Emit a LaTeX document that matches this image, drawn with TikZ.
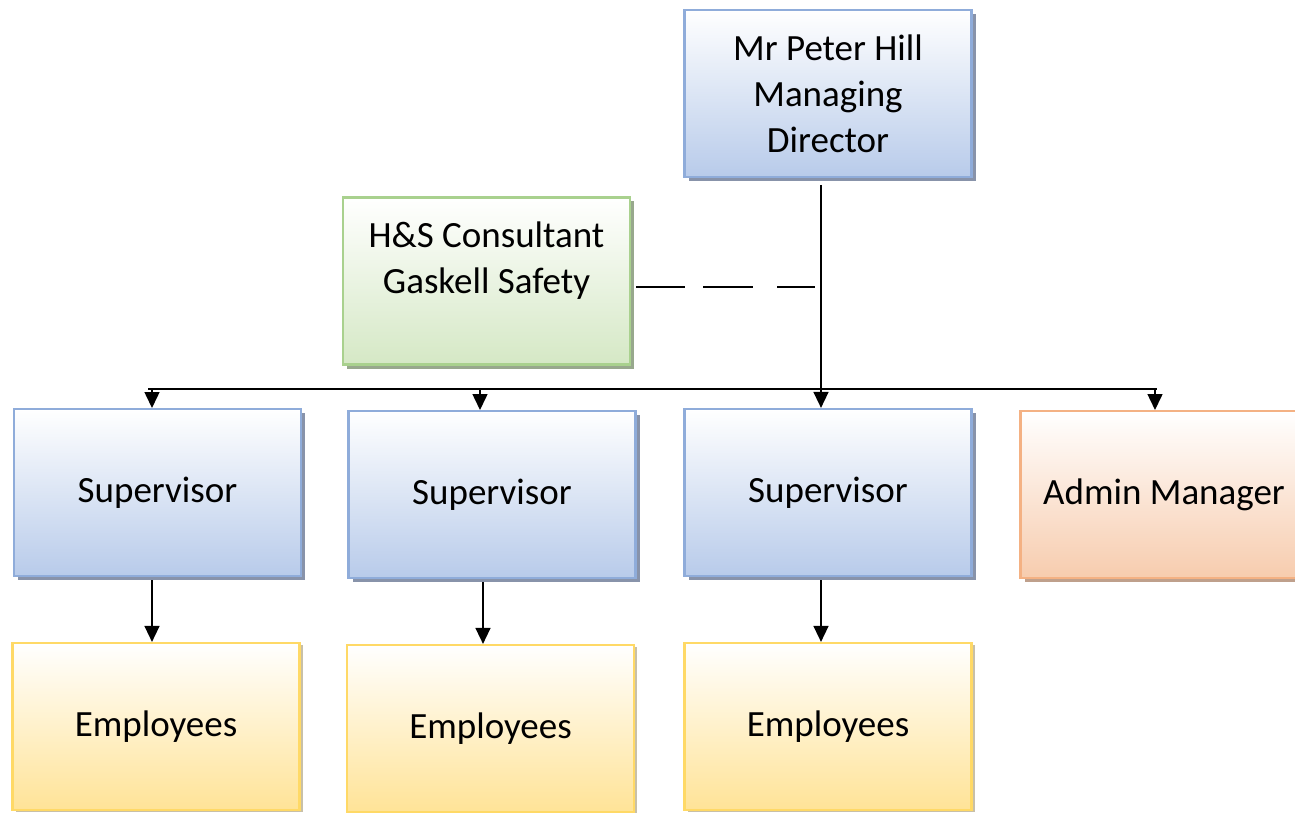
\documentclass[tikz,border=0pt]{standalone}
\usepackage{fontspec}
\setmainfont{Carlito}
\usetikzlibrary{arrows.meta,shadows}
\definecolor{bluedraw}{HTML}{8FACDA}
\definecolor{bluebot}{HTML}{B8CBEA}
\definecolor{blueshad}{HTML}{8893AA}
\definecolor{greendraw}{HTML}{A9D18E}
\definecolor{greenbot}{HTML}{D5E8C5}
\definecolor{greenshad}{HTML}{98A88D}
\definecolor{yeldraw}{HTML}{FFD966}
\definecolor{yelbot}{HTML}{FFE397}
\definecolor{yelshad}{HTML}{C8C0A8}
\definecolor{ordraw}{HTML}{F4B183}
\definecolor{orbot}{HTML}{F7CCAE}
\definecolor{orshad}{HTML}{BFA08C}
\tikzset{
  orgbox/.style={rectangle, minimum width=287pt, minimum height=167pt, inner sep=0pt,
    align=center, line width=2.2pt, font=\fontsize{37}{46}\selectfont, text=black},
  bluebox/.style={orgbox, draw=bluedraw, top color=white, bottom color=bluebot,
    general shadow={fill=blueshad, shadow xshift=4pt, shadow yshift=-4pt}},
  greenbox/.style={orgbox, draw=greendraw, top color=white, bottom color=greenbot,
    general shadow={fill=greenshad, shadow xshift=4pt, shadow yshift=-4pt}},
  yelbox/.style={orgbox, draw=yeldraw, top color=white, bottom color=yelbot,
    general shadow={fill=yelshad, shadow xshift=3pt, shadow yshift=-2pt}},
  orbox/.style={orgbox, draw=ordraw, top color=white, bottom color=orbot,
    general shadow={fill=orshad, shadow xshift=4pt, shadow yshift=-4pt}},
  conn/.style={line width=1.5pt, draw=black},
  arr/.style={conn, -{Triangle[width=15pt,length=16pt]}}
}
\begin{document}
\begin{tikzpicture}[x=1pt,y=-1pt]
\useasboundingbox (0,0) rectangle (1295,813);
\node[bluebox] (md) at (828,93.5) {Mr Peter Hill\\Managing\\Director};
\node[greenbox] (hs) at (486.5,281) {H\&S Consultant\\Gaskell Safety\\[0pt]\vphantom{X}};
\node[bluebox] (s1) at (157.5,492.5) {Supervisor};
\node[bluebox] (s2) at (492,494.5) {Supervisor};
\node[bluebox] (s3) at (828,492.5) {Supervisor};
\node[orbox] (am) at (1164,494.5) {Admin Manager};
\node[yelbox] (e1) at (156,726.5) {Employees};
\node[yelbox] (e2) at (490.5,728.5) {Employees};
\node[yelbox] (e3) at (828,726.5) {Employees};
% bus
\coordinate (bl) at (148,389);
\coordinate (br) at (1157,389);
\coordinate (mdb) at (821,185);
\coordinate (dashend) at (815,287);
\coordinate (dashstart) at (636,287);
\draw[conn] (bl) -- (br);
\draw[arr] (mdb) -- (mdb |- s3.north);
\draw[arr] (152,389) -- (152,408);
\draw[arr] (480,389) -- (480,410);
\draw[arr] (1155,389) -- (1155,410);
\draw[conn, dash pattern=on 49pt off 18pt on 50pt off 24pt on 38pt] (dashstart) -- (dashend);
\draw[arr] (152,580) -- (e1.north -| 152,0);
\draw[arr] (483,582) -- (e2.north -| 483,0);
\draw[arr] (821,580) -- (e3.north -| 821,0);
\end{tikzpicture}
\end{document}
